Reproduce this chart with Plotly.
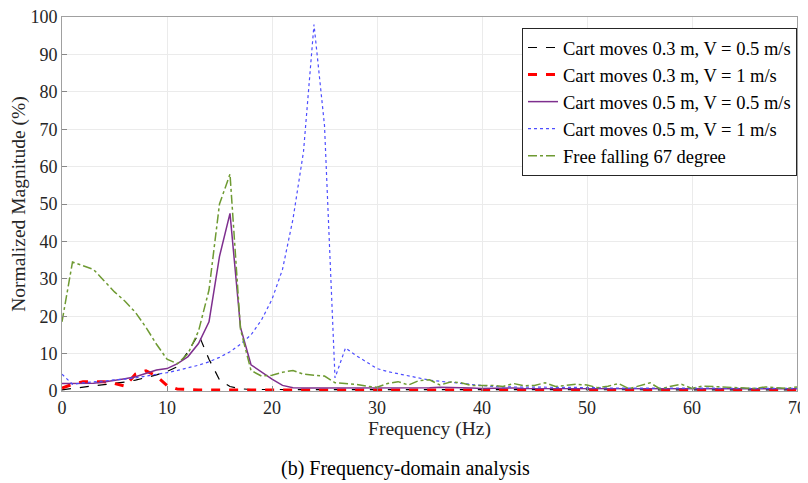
import plotly.graph_objects as go

freq = list(range(0, 71))

black_03_05 = [0.3, 0.7, 1.0, 1.4, 1.7, 2.0, 2.4, 2.9, 3.5, 4.3, 5.2, 6.5, 10.5, 15.2, 8.5, 3.0, 1.2, 0.6, 0.4, 0.4,
               0.4, 0.4, 0.4, 0.4, 0.5, 0.4, 0.4, 0.4, 0.4, 0.4, 0.4, 0.3, 0.4, 0.4, 0.3, 0.4, 0.4, 0.3, 0.4, 0.4,
               0.3, 0.4, 0.4, 0.3, 0.4, 0.3, 0.4, 0.3, 0.4, 0.3, 0.4, 0.3, 0.4, 0.3, 0.4, 0.3, 0.3, 0.4, 0.3, 0.3,
               0.4, 0.3, 0.3, 0.3, 0.4, 0.3, 0.3, 0.3, 0.3, 0.3, 0.3]
red_03_1 = [0.8, 1.8, 2.5, 2.5, 2.5, 2.0, 1.3, 4.5, 5.4, 4.0, 1.5, 0.5, 0.3, 0.3, 0.3, 0.3, 0.3, 0.3, 0.3, 0.3,
            0.3, 0.3, 0.3, 0.3, 0.3, 0.3, 0.3, 0.3, 0.3, 0.3, 0.3, 0.3, 0.3, 0.3, 0.3, 0.3, 0.3, 0.3, 0.3, 0.3,
            0.3, 0.3, 0.3, 0.3, 0.3, 0.3, 0.3, 0.3, 0.3, 0.3, 0.3, 0.3, 0.3, 0.3, 0.3, 0.3, 0.3, 0.3, 0.3, 0.3,
            0.3, 0.3, 0.3, 0.3, 0.3, 0.3, 0.3, 0.3, 0.3, 0.3, 0.3]
purple_05_05 = [2.0, 2.0, 2.0, 2.1, 2.4, 2.8, 3.3, 3.8, 4.6, 5.6, 6.0, 7.3, 9.2, 12.7, 18.5, 36.0, 47.5, 17.0, 7.0, 5.0,
                3.2, 1.5, 0.9, 0.8, 0.8, 0.8, 0.7, 0.8, 0.8, 0.8, 0.7, 0.8, 0.9, 0.8, 0.8, 0.9, 1.0, 1.0, 0.9, 0.8,
                0.7, 0.8, 0.7, 0.8, 0.7, 0.7, 0.8, 0.7, 0.7, 0.7, 0.8, 0.7, 0.7, 0.6, 0.7, 0.7, 0.6, 0.7, 0.7, 0.6,
                0.6, 0.7, 0.6, 0.6, 0.6, 0.6, 0.6, 0.6, 0.6, 0.6, 0.6]
blue_05_1 = [4.5, 1.8, 2.2, 2.4, 2.6, 2.9, 3.2, 3.5, 3.9, 4.3, 4.9, 5.5, 6.1, 6.9, 7.8, 9.0, 10.5, 12.5, 15.0, 19.0,
             24.5, 32.5, 46.0, 64.0, 98.0, 71.0, 3.5, 11.5, 9.5, 7.8, 6.0, 5.2, 4.6, 4.0, 3.4, 2.9, 2.6, 2.3, 2.1, 1.7,
             1.3, 1.2, 1.1, 1.1, 1.0, 1.0, 1.0, 0.9, 0.9, 0.9, 0.9, 0.9, 0.8, 0.8, 0.8, 0.8, 0.8, 0.8, 0.8, 0.8,
             0.7, 0.7, 0.7, 0.7, 0.7, 0.7, 0.7, 0.7, 0.7, 0.7, 0.7]
green_free = [18.5, 34.5, 33.5, 32.5, 29.5, 26.5, 24.0, 21.0, 17.0, 12.5, 8.5, 7.3, 10.0, 16.0, 27.0, 50.0, 58.0, 16.5, 5.5, 4.0,
              4.2, 5.0, 5.5, 4.5, 4.2, 4.0, 2.2, 2.0, 1.8, 1.3, 1.0, 2.0, 2.5, 1.6, 2.8, 3.0, 1.6, 2.4, 2.2, 1.5,
              1.6, 1.5, 1.2, 2.0, 1.4, 1.5, 2.2, 1.2, 1.5, 1.8, 1.6, 0.9, 1.3, 2.0, 0.6, 1.4, 2.2, 0.5, 1.3, 1.8,
              0.7, 1.3, 1.2, 1.0, 1.1, 1.0, 0.7, 1.1, 1.0, 0.7, 1.1]

legend_names = ["Cart moves 0.3 m, V = 0.5 m/s", "Cart moves 0.3 m, V = 1 m/s",
                "Cart moves 0.5 m, V = 0.5 m/s", "Cart moves 0.5 m, V = 1 m/s",
                "Free falling 67 degree"]

x_ticks = [0, 10, 20, 30, 40, 50, 60, 70]
y_ticks = [0, 10, 20, 30, 40, 50, 60, 70, 80, 90, 100]

FONT = "Liberation Serif"

fig = go.Figure()
fig.add_trace(go.Scatter(x=freq, y=black_03_05, mode="lines", name=legend_names[0],
                         line=dict(color="#000000", width=1.2, dash="dash")))
fig.add_trace(go.Scatter(x=freq, y=red_03_1, mode="lines", name=legend_names[1],
                         line=dict(color="#FF0000", width=3, dash="dash")))
fig.add_trace(go.Scatter(x=freq, y=purple_05_05, mode="lines", name=legend_names[2],
                         line=dict(color="#7E2F8E", width=1.5)))
fig.add_trace(go.Scatter(x=freq, y=blue_05_1, mode="lines", name=legend_names[3],
                         line=dict(color="#4D4DFF", width=1.2, dash="dot")))
fig.add_trace(go.Scatter(x=freq, y=green_free, mode="lines", name=legend_names[4],
                         line=dict(color="#6E9A32", width=1.5, dash="dashdot")))

fig.update_layout(
    width=800, height=475,
    margin=dict(l=54, r=11, t=9, b=92, autoexpand=False),
    paper_bgcolor="white", plot_bgcolor="white",
    font=dict(family=FONT, size=18, color="#262626"),
    showlegend=True,
    legend=dict(x=1, xanchor="right", y=0.9706, yanchor="top",
                bgcolor="white", bordercolor="#262626", borderwidth=1,
                font=dict(family=FONT, size=18.5, color="#000000"),
                tracegroupgap=0, itemwidth=30),
    annotations=[dict(text="(b) Frequency-domain analysis", xref="paper", yref="paper",
                      x=0.467, y=-0.206, xanchor="center", yanchor="middle", showarrow=False,
                      font=dict(family=FONT, size=20, color="#000000"))],
)
fig.update_xaxes(range=[0, 70], tickvals=x_ticks, ticks="inside", ticklen=5, tickcolor="#888888",
                 showgrid=True, gridcolor="#EBEBEB", gridwidth=1, zeroline=False, automargin=False,
                 showline=True, linecolor="#A0A0A0", linewidth=1, mirror=True,
                 ticklabeloverflow="allow",
                 tickfont=dict(family=FONT, size=18, color="#262626"),
                 title=dict(text="Frequency (Hz)", standoff=4, font=dict(family=FONT, size=19.5, color="#262626")))
fig.update_yaxes(range=[0, 100], tickvals=y_ticks, ticks="inside", ticklen=5, tickcolor="#888888",
                 showgrid=True, gridcolor="#EBEBEB", gridwidth=1, zeroline=False, automargin=False,
                 showline=True, linecolor="#A0A0A0", linewidth=1, mirror=True,
                 ticklabeloverflow="allow",
                 tickfont=dict(family=FONT, size=18, color="#262626"),
                 title=dict(text="Normalized Magnitude (%)", standoff=2, font=dict(family=FONT, size=19.5, color="#262626")))

fig.write_html("out.html")
